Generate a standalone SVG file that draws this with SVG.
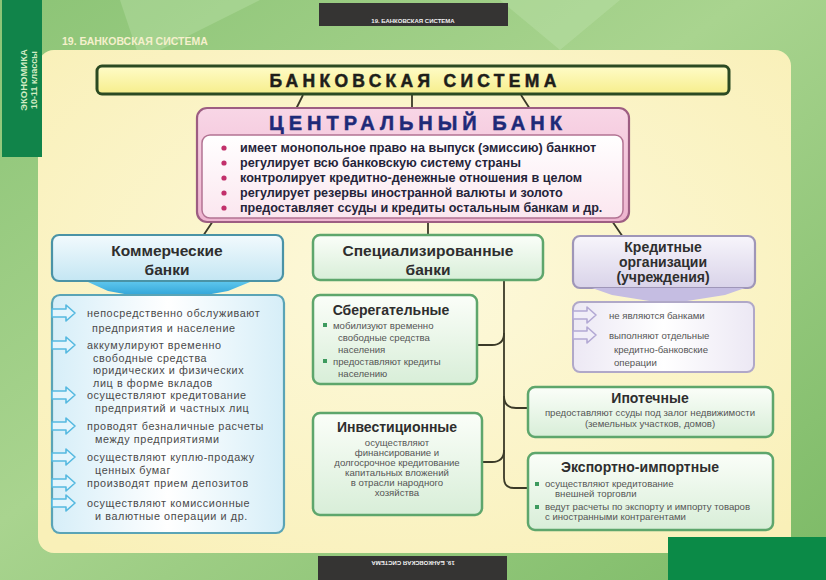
<svg xmlns="http://www.w3.org/2000/svg" width="826" height="580" viewBox="0 0 826 580">
<defs>
<linearGradient id="bg" x1="0" y1="0" x2="1" y2="1">
<stop offset="0" stop-color="#8cc476"/><stop offset="0.45" stop-color="#a9d48f"/><stop offset="1" stop-color="#7cba66"/>
</linearGradient>
<radialGradient id="panel" cx="0.5" cy="0.45" r="0.7">
<stop offset="0" stop-color="#fdf9dc"/><stop offset="1" stop-color="#f9f0b8"/>
</radialGradient>
<linearGradient id="ttl" x1="0" y1="0" x2="0" y2="1"><stop offset="0" stop-color="#fffcc8"/><stop offset="1" stop-color="#f6ee8c"/></linearGradient>
<linearGradient id="pink" x1="0" y1="0" x2="0" y2="1"><stop offset="0" stop-color="#f8d6e6"/><stop offset="1" stop-color="#eeb4cf"/></linearGradient>
<linearGradient id="pinkin" x1="0" y1="0" x2="0" y2="1"><stop offset="0" stop-color="#ffffff"/><stop offset="1" stop-color="#fbe6ef"/></linearGradient>
<linearGradient id="blue" x1="0" y1="0" x2="0" y2="1"><stop offset="0" stop-color="#f2fafd"/><stop offset="1" stop-color="#c4e6f3"/></linearGradient>
<linearGradient id="bluel" x1="0" y1="0" x2="1" y2="0"><stop offset="0" stop-color="#d6eef8"/><stop offset="0.5" stop-color="#ffffff"/><stop offset="1" stop-color="#d6eef8"/></linearGradient>
<linearGradient id="bchev" x1="0" y1="0" x2="0" y2="1"><stop offset="0" stop-color="#5cc5ec"/><stop offset="1" stop-color="#1d95cf"/></linearGradient>
<linearGradient id="green" x1="0" y1="0" x2="0" y2="1"><stop offset="0" stop-color="#fbfef9"/><stop offset="1" stop-color="#d8eed8"/></linearGradient>
<linearGradient id="lav" x1="0" y1="0" x2="0" y2="1"><stop offset="0" stop-color="#f7f5fb"/><stop offset="1" stop-color="#d9d3e9"/></linearGradient>
<linearGradient id="lavl" x1="0" y1="0" x2="1" y2="0"><stop offset="0" stop-color="#ece8f4"/><stop offset="0.5" stop-color="#ffffff"/><stop offset="1" stop-color="#ece8f4"/></linearGradient>
<g id="barrow"><path d="M0,-4 H14 V-8 L23,0 L14,8 V4 H0 Z" fill="#e4f5fc" stroke="#56b9e0" stroke-width="1.6" stroke-linejoin="round"/></g>
<g id="larrow"><path d="M0,-4 H14 V-8 L23,0 L14,8 V4 H0 Z" fill="#f1eef8" stroke="#b3a9d4" stroke-width="1.6" stroke-linejoin="round"/></g>
</defs>
<style>
text{font-family:"Liberation Sans","DejaVu Sans",Arial,sans-serif}
.hd{font-weight:bold;font-size:15.5px;fill:#2e2e2e;text-anchor:middle}
.sh{font-weight:bold;font-size:14px;fill:#2e2e2e;text-anchor:middle}
.cb{font-weight:bold;font-size:12.6px;fill:#25243a}
.cl{font-size:10.8px;letter-spacing:0.6px;fill:#4a4a4a}
.sm{font-size:9.6px;fill:#555}
.smc{font-size:9.6px;fill:#555;text-anchor:middle}
.con{fill:none;stroke:#3b3a28;stroke-width:1.8}
.gbox{fill:url(#green);stroke:#5ea66c;stroke-width:2.5}
.gb{fill:#3d9a5e}
</style>

<rect x="0" y="0" width="826" height="580" fill="url(#bg)"/>
<path d="M120,0 L260,0 L140,60 Z M500,0 L620,0 L560,50 Z" fill="#c4e4b2" opacity="0.35"/>
<rect x="38" y="50" width="753" height="503" rx="16" fill="url(#panel)"/>
<rect x="2" y="0" width="40" height="157" fill="#11844a"/>
<text transform="translate(27,80) rotate(-90)" text-anchor="middle" font-size="9.5" font-weight="bold" fill="#d2ecc4">ЭКОНОМИКА</text>
<text transform="translate(37,80) rotate(-90)" text-anchor="middle" font-size="9" font-weight="bold" fill="#d2ecc4">10-11 классы</text>
<rect x="319" y="3" width="189" height="23" fill="#353433"/>
<text x="413" y="23" text-anchor="middle" font-size="6" font-weight="bold" fill="#f2f2f2">19. БАНКОВСКАЯ СИСТЕМА</text>
<text x="62" y="45" font-size="10.5" font-weight="bold" fill="#f5f0cc">19. БАНКОВСКАЯ СИСТЕМА</text>
<rect x="318" y="556" width="189" height="24" fill="#353433"/>
<text transform="translate(413,561) rotate(180)" text-anchor="middle" font-size="6" font-weight="bold" fill="#f2f2f2">19. БАНКОВСКАЯ СИСТЕМА</text>
<rect x="668" y="537" width="158" height="43" fill="#0b8a47"/>

<g id="connectors">
<path class="con" d="M303,95 L296,109 M412,95 V109 M521,95 L530,109"/>
<path class="con" d="M213,221 L203,236 M428,221 V236 M612,221 L623,237"/>
<path class="con" d="M504,280 V478 Q504,488 514,488 H528"/>
<path class="con" d="M504,333 Q504,345 492,345 H477"/>
<path class="con" d="M504,396 Q504,408 516,408 H528"/>
<path class="con" d="M504,450 Q504,462 492,462 H482"/>
</g>

<g id="title">
<rect x="97" y="66" width="632" height="28" rx="5" fill="url(#ttl)" stroke="#2b4a22" stroke-width="3"/>
<text x="415" y="87" text-anchor="middle" font-size="17.5" font-weight="900" letter-spacing="4.3" fill="#1e1e1a" stroke="#1e1e1a" stroke-width="0.5">БАНКОВСКАЯ СИСТЕМА</text>
</g>

<g id="central-bank">
<rect x="197" y="108" width="432" height="114" rx="10" fill="url(#pink)" stroke="#9d5d82" stroke-width="2.2"/>
<text x="418" y="130" text-anchor="middle" font-size="20" font-weight="bold" letter-spacing="5" fill="#1e2a78" stroke="#1e2a78" stroke-width="0.5">ЦЕНТРАЛЬНЫЙ БАНК</text>
<rect x="202" y="135" width="421" height="83" rx="8" fill="url(#pinkin)" stroke="#b27393" stroke-width="1.5"/>
<g fill="#c2306b"><circle cx="224" cy="148" r="2.6"/><circle cx="224" cy="163" r="2.6"/><circle cx="224" cy="178" r="2.6"/><circle cx="224" cy="193" r="2.6"/><circle cx="224" cy="208" r="2.6"/></g>
<text class="cb" x="240" y="152">имеет монопольное право на выпуск (эмиссию) банкнот</text>
<text class="cb" x="240" y="167">регулирует всю банковскую систему страны</text>
<text class="cb" x="240" y="182">контролирует кредитно-денежные отношения в целом</text>
<text class="cb" x="240" y="197">регулирует резервы иностранной валюты и золото</text>
<text class="cb" x="240" y="212">предоставляет ссуды и кредиты остальным банкам и др.</text>
</g>

<g id="commercial">
<rect x="52" y="235" width="231" height="46" rx="7" fill="url(#blue)" stroke="#4a93a6" stroke-width="2.2"/>
<text class="hd" x="167" y="256">Коммерческие</text>
<text class="hd" x="167" y="275">банки</text>
<path d="M88,282 H250 L228,291 L168,302 L108,291 Z" fill="url(#bchev)"/>
<rect x="52" y="295" width="232" height="238" rx="8" fill="url(#bluel)" stroke="#5aa4b6" stroke-width="2.2"/>
<use href="#barrow" x="52" y="313"/>
<use href="#barrow" x="52" y="345"/>
<use href="#barrow" x="52" y="395"/>
<use href="#barrow" x="52" y="426"/>
<use href="#barrow" x="52" y="457"/>
<use href="#barrow" x="52" y="483"/>
<use href="#barrow" x="52" y="503"/>
<text class="cl" x="87" y="317">непосредственно обслуживают</text>
<text class="cl" x="92" y="332">предприятия и население</text>
<text class="cl" x="87" y="349">аккумулируют временно</text>
<text class="cl" x="93" y="361.5">свободные средства</text>
<text class="cl" x="93" y="374">юридических и физических</text>
<text class="cl" x="93" y="386.5">лиц в форме вкладов</text>
<text class="cl" x="87" y="399">осуществляют кредитование</text>
<text class="cl" x="95" y="411.5">предприятий и частных лиц</text>
<text class="cl" x="87" y="430">проводят безналичные расчеты</text>
<text class="cl" x="95" y="442.5">между предприятиями</text>
<text class="cl" x="87" y="461">осуществляют куплю-продажу</text>
<text class="cl" x="95" y="473.5">ценных бумаг</text>
<text class="cl" x="87" y="487">производят прием депозитов</text>
<text class="cl" x="87" y="507">осуществляют комиссионные</text>
<text class="cl" x="95" y="520">и валютные операции и др.</text>
</g>

<g id="specialized">
<rect x="313" y="235" width="230" height="45" rx="7" fill="url(#green)" stroke="#5ea66c" stroke-width="2.5"/>
<text class="hd" x="428" y="256">Специализированные</text>
<text class="hd" x="428" y="275">банки</text>
</g>

<g id="savings">
<rect class="gbox" x="313" y="295" width="164" height="89" rx="7"/>
<text class="sh" x="391" y="315">Сберегательные</text>
<rect class="gb" x="323" y="323" width="4" height="4"/>
<rect class="gb" x="323" y="359" width="4" height="4"/>
<text class="sm" x="333" y="329">мобилизуют временно</text>
<text class="sm" x="338" y="341">свободные средства</text>
<text class="sm" x="338" y="353">населения</text>
<text class="sm" x="333" y="365">предоставляют кредиты</text>
<text class="sm" x="338" y="377">населению</text>
</g>

<g id="investment">
<rect class="gbox" x="313" y="413" width="169" height="102" rx="7"/>
<text class="sh" x="397" y="432">Инвестиционные</text>
<text class="smc" x="397" y="446">осуществляют</text>
<text class="smc" x="397" y="456">финансирование и</text>
<text class="smc" x="397" y="466">долгосрочное кредитование</text>
<text class="smc" x="397" y="476">капитальных вложений</text>
<text class="smc" x="397" y="486">в отрасли народного</text>
<text class="smc" x="397" y="496">хозяйства</text>
</g>

<g id="mortgage">
<rect class="gbox" x="528" y="387" width="245" height="50" rx="7"/>
<text class="sh" x="650" y="403">Ипотечные</text>
<text class="smc" x="650" y="416">предоставляют ссуды под залог недвижимости</text>
<text class="smc" x="650" y="427">(земельных участков, домов)</text>
</g>

<g id="export-import">
<rect class="gbox" x="528" y="453" width="245" height="77" rx="7"/>
<text class="sh" x="640" y="472">Экспортно-импортные</text>
<rect class="gb" x="535" y="482" width="4" height="4"/>
<rect class="gb" x="535" y="505" width="4" height="4"/>
<text class="sm" x="545" y="487">осуществляют кредитование</text>
<text class="sm" x="555" y="497">внешней торговли</text>
<text class="sm" x="545" y="510">ведут расчеты по экспорту и импорту товаров</text>
<text class="sm" x="545" y="520">с иностранными контрагентами</text>
</g>

<g id="credit-org">
<rect x="573" y="236" width="182" height="52" rx="7" fill="url(#lav)" stroke="#9f96b8" stroke-width="2.2"/>
<text class="sh" x="663" y="252" font-size="13.5px">Кредитные</text>
<text class="sh" x="663" y="267" font-size="13.5px">организации</text>
<text class="sh" x="663" y="282" font-size="12.5px">(учреждения)</text>
<path d="M592,288 H745 L725,295 L668,304 L612,295 Z" fill="#c5bde2"/>
<rect x="573" y="302" width="181" height="70" rx="7" fill="url(#lavl)" stroke="#b0a8c8" stroke-width="2"/>
<use href="#larrow" x="573" y="315"/>
<use href="#larrow" x="573" y="335"/>
<text class="sm" x="609" y="319">не являются банками</text>
<text class="sm" x="609" y="339">выполняют отдельные</text>
<text class="sm" x="614" y="353">кредитно-банковские</text>
<text class="sm" x="614" y="366">операции</text>
</g>
</svg>
